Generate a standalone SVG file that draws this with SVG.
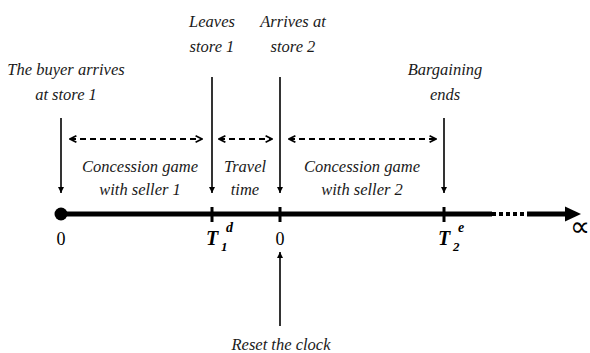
<svg xmlns="http://www.w3.org/2000/svg" width="590" height="353" viewBox="0 0 590 353">
<defs>
<marker id="ah" viewBox="0 0 10 10" refX="10" refY="5" markerWidth="6" markerHeight="7" markerUnits="userSpaceOnUse" orient="auto">
<path d="M0,0 L10,5 L0,10 Z" fill="#000"/>
</marker>
<marker id="chev" viewBox="0 0 10 10" refX="9" refY="5" markerWidth="8" markerHeight="8" markerUnits="userSpaceOnUse" orient="auto-start-reverse">
<path d="M1,1 L9,5 L1,9" fill="none" stroke="#000" stroke-width="2.2"/>
</marker>
</defs>
<style>
text{font-family:"Liberation Serif","DejaVu Sans",sans-serif}
.lbl{font-style:italic;font-size:16.5px;fill:#1a1a1a;text-anchor:middle}
.num{font-size:18px;fill:#000;text-anchor:middle}
.tt{font-style:italic;font-weight:bold;fill:#000}
.inf{font-family:"DejaVu Sans",sans-serif;font-size:28px;text-anchor:middle}
.arr{stroke:#000;stroke-width:1.6;fill:none;marker-end:url(#ah)}
.dash{stroke:#000;stroke-width:2;fill:none;stroke-dasharray:6 4;marker-start:url(#chev);marker-end:url(#chev)}
.tick{stroke:#000;stroke-width:3}
</style>
<g id="axis">
<line x1="61" y1="214" x2="492" y2="214" stroke="#000" stroke-width="5"/>
<line x1="492" y1="214" x2="527" y2="214" stroke="#000" stroke-width="4" stroke-dasharray="4 3"/>
<line x1="527" y1="214" x2="567" y2="214" stroke="#000" stroke-width="5"/>
<path d="M565,206.5 L581,214 L565,221.5 Z" fill="#000"/>
<circle cx="61" cy="214" r="6.5" fill="#000"/>
<line class="tick" x1="212" y1="207" x2="212" y2="222"/>
<line class="tick" x1="280" y1="207" x2="280" y2="222"/>
<line class="tick" x1="444" y1="207" x2="444" y2="222"/>
<text x="580" y="236" class="inf">∝</text>
</g>
<g id="node-start">
<text class="lbl" x="66" y="75">The buyer arrives</text>
<text class="lbl" x="66" y="100">at store 1</text>
<text class="num" x="61" y="245">0</text>
</g>
<g id="node-leaves">
<text class="lbl" x="212" y="27">Leaves</text>
<text class="lbl" x="212" y="52">store 1</text>
<text class="tt" x="206" y="245" font-size="20">T</text>
<text class="tt" x="221" y="251" font-size="13">1</text>
<text class="tt" x="226" y="232" font-size="14">d</text>
</g>
<g id="node-arrives">
<text class="lbl" x="293" y="27">Arrives at</text>
<text class="lbl" x="293" y="52">store 2</text>
<text class="num" x="280" y="245">0</text>
</g>
<g id="node-ends">
<text class="lbl" x="445" y="75">Bargaining</text>
<text class="lbl" x="445" y="100">ends</text>
<text class="tt" x="438" y="245" font-size="20">T</text>
<text class="tt" x="453" y="251" font-size="13">2</text>
<text class="tt" x="458" y="232" font-size="14">e</text>
</g>
<g id="node-game1">
<text class="lbl" x="140" y="172">Concession game</text>
<text class="lbl" x="140" y="195">with seller 1</text>
</g>
<g id="node-travel">
<text class="lbl" x="245" y="172">Travel</text>
<text class="lbl" x="245" y="195">time</text>
</g>
<g id="node-game2">
<text class="lbl" x="362" y="172">Concession game</text>
<text class="lbl" x="362" y="195">with seller 2</text>
</g>
<g id="node-reset">
<text class="lbl" x="281" y="350">Reset the clock</text>
</g>
<g id="connectors">
<line class="arr" x1="61" y1="118" x2="61" y2="193"/>
<line class="arr" x1="212" y1="77" x2="212" y2="193"/>
<line class="arr" x1="280" y1="77" x2="280" y2="193"/>
<line class="arr" x1="444" y1="118" x2="444" y2="193"/>
<line class="arr" x1="280" y1="326" x2="280" y2="252"/>
<line class="dash" x1="70" y1="139" x2="202" y2="139"/>
<line class="dash" x1="219" y1="139" x2="272" y2="139"/>
<line class="dash" x1="289" y1="139" x2="436" y2="139"/>
</g>
</svg>
